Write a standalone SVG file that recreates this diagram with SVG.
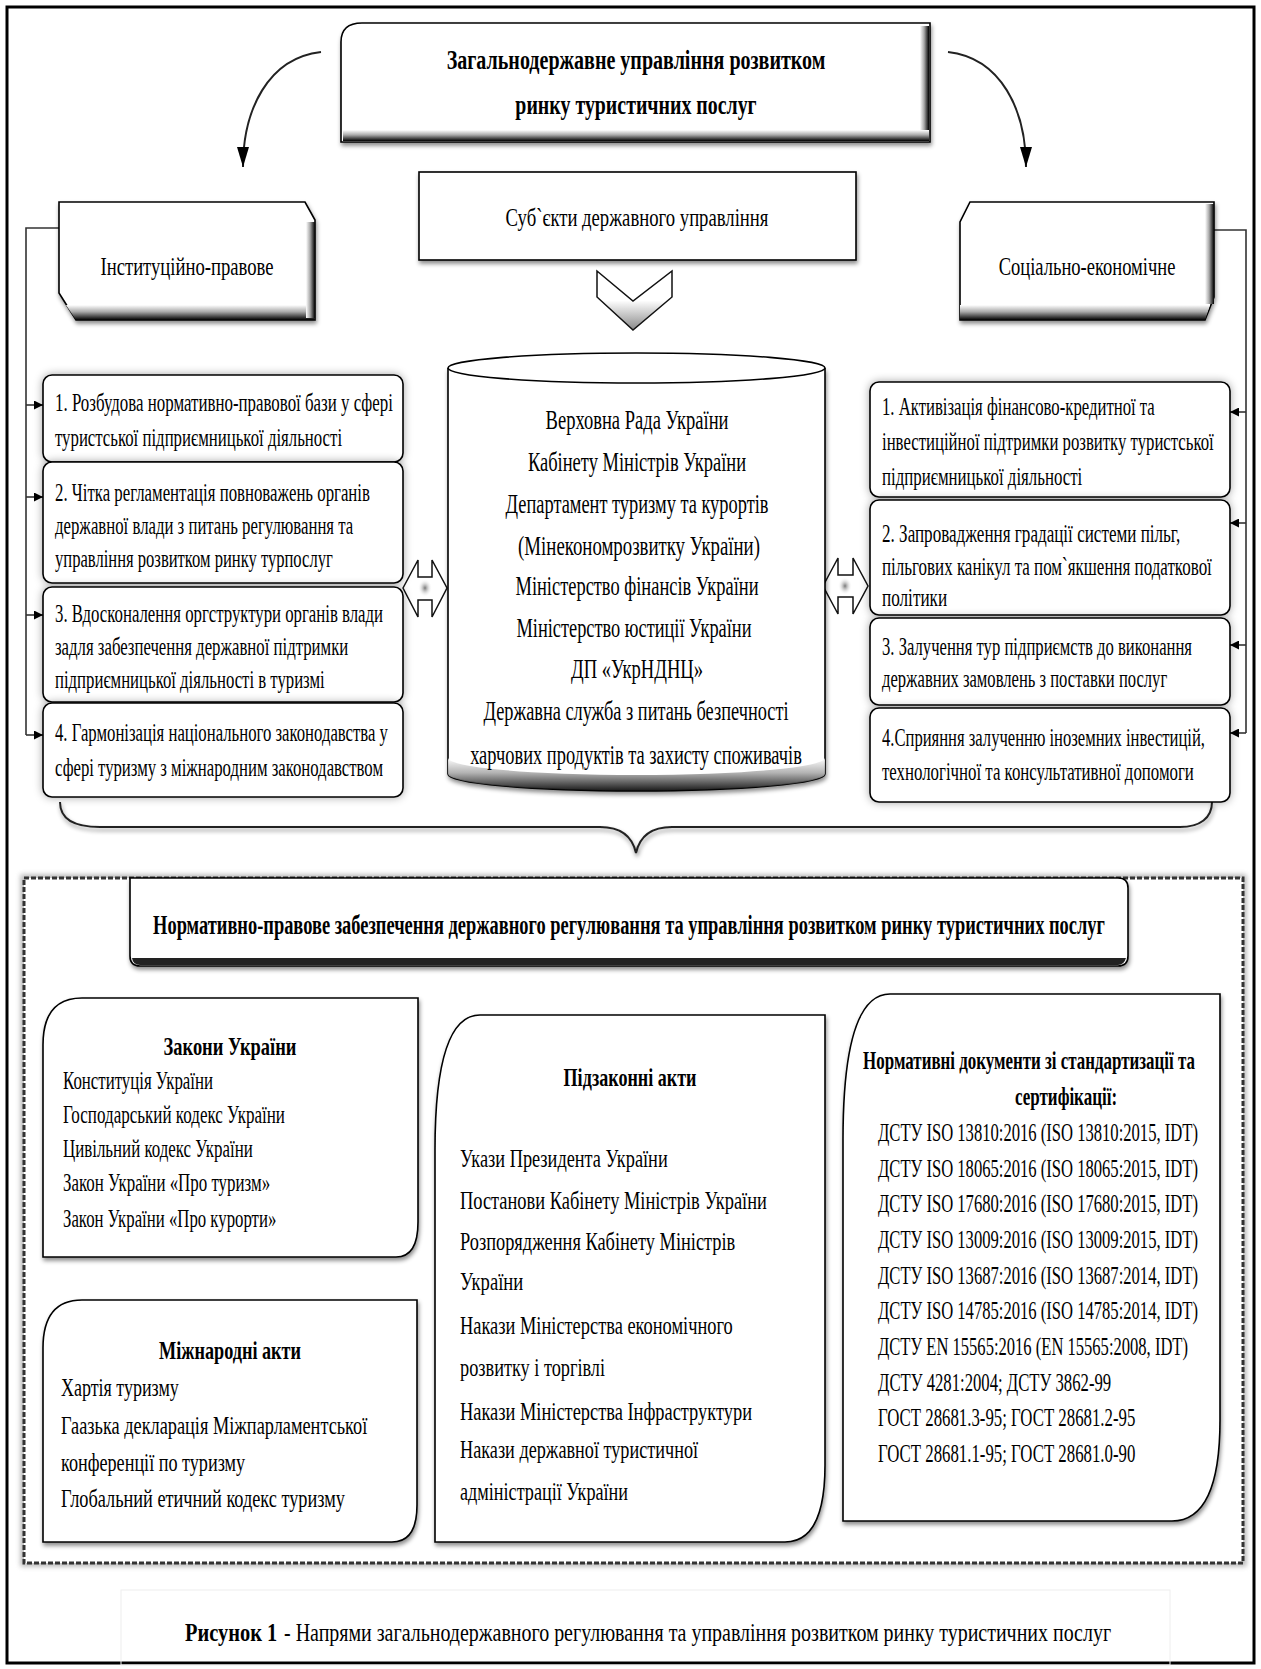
<svg xmlns="http://www.w3.org/2000/svg" width="1261" height="1669" viewBox="0 0 1261 1669">
<style>
.t{font-family:"Liberation Serif","Times New Roman",serif;font-size:26px;fill:#000}
.b{font-weight:bold}
.c{text-anchor:middle}
.cy{font-size:28px}
.h{font-size:28px}
.box{fill:#fff;stroke:#000;stroke-width:1.6}
.con{fill:none;stroke:#333;stroke-width:1.6}
</style>
<defs>
<linearGradient id="gB" x1="0" y1="0" x2="0" y2="1"><stop offset="0" stop-color="#fff"/><stop offset="0.45" stop-color="#aaa"/><stop offset="1" stop-color="#000"/></linearGradient>
<linearGradient id="gR" x1="0" y1="0" x2="1" y2="0"><stop offset="0" stop-color="#fff"/><stop offset="0.45" stop-color="#aaa"/><stop offset="1" stop-color="#000"/></linearGradient>
<linearGradient id="gChev" x1="0" y1="0" x2="0" y2="1"><stop offset="0" stop-color="#fff"/><stop offset="0.5" stop-color="#fff"/><stop offset="1" stop-color="#888"/></linearGradient>
<radialGradient id="blob"><stop offset="0" stop-color="#777"/><stop offset="1" stop-color="#fff" stop-opacity="0"/></radialGradient>
<filter id="sh" x="-5%" y="-10%" width="112%" height="130%"><feDropShadow dx="1" dy="3" stdDeviation="2" flood-color="#000" flood-opacity="0.45"/></filter>
<filter id="glow" x="-10%" y="-20%" width="120%" height="140%"><feDropShadow dx="0" dy="0" stdDeviation="4" flood-color="#000" flood-opacity="0.35"/></filter>
<filter id="blur"><feGaussianBlur stdDeviation="2.5"/></filter>
<marker id="big" viewBox="0 0 12 20" refX="6" refY="20" markerWidth="12" markerHeight="20" markerUnits="userSpaceOnUse" orient="0"><path d="M0,0 L12,0 L6,20 Z" fill="#000"/></marker>
<marker id="sm" viewBox="0 0 10 10" refX="10" refY="5" markerWidth="10" markerHeight="9" markerUnits="userSpaceOnUse" orient="auto"><path d="M0,0 L10,5 L0,10 Z" fill="#000"/></marker>
</defs>
<rect x="0" y="0" width="1261" height="1669" fill="#fff"/>
<rect x="7" y="7" width="1247" height="1656" fill="none" stroke="#000" stroke-width="3"/>

<g id="connectors">
<path d="M321,52 C268,58 243,110 243,167" fill="none" stroke="#222" stroke-width="2" marker-end="url(#big)"/>
<path d="M948,52 C1001,58 1026,110 1026,167" fill="none" stroke="#222" stroke-width="2" marker-end="url(#big)"/>
<path class="con" d="M59,228 H26 V735"/>
<line class="con" x1="26" y1="405" x2="43" y2="405" marker-end="url(#sm)"/>
<line class="con" x1="26" y1="497" x2="43" y2="497" marker-end="url(#sm)"/>
<line class="con" x1="26" y1="615" x2="43" y2="615" marker-end="url(#sm)"/>
<line class="con" x1="26" y1="735" x2="43" y2="735" marker-end="url(#sm)"/>
<path class="con" d="M1214,230 H1246 V733"/>
<line class="con" x1="1246" y1="412" x2="1230" y2="412" marker-end="url(#sm)"/>
<line class="con" x1="1246" y1="523" x2="1230" y2="523" marker-end="url(#sm)"/>
<line class="con" x1="1246" y1="645" x2="1230" y2="645" marker-end="url(#sm)"/>
<line class="con" x1="1246" y1="733" x2="1230" y2="733" marker-end="url(#sm)"/>
<path d="M60,802 C60,820 75,827 100,827 H600 C620,827 632,835 636,853 C640,835 652,827 672,827 H1180 C1200,827 1212,818 1212,802" fill="none" stroke="#222" stroke-width="2" filter="url(#sh)"/>
<g id="chevron"><polygon points="597,271 633,301 672,271 672,297 633,330 597,297" fill="url(#gChev)" stroke="#111" stroke-width="1.5"/></g>
<g id="dblL"><polygon points="403,588 418,560 418,577 432,577 432,560 447,588 432,617 432,600 418,600 418,617" fill="#fff" stroke="#111" stroke-width="1.5"/><ellipse cx="425" cy="588" rx="7" ry="9" fill="url(#blob)"/></g>
<g id="dblR"><polygon points="823,586 838,558 838,575 853,575 853,558 868,586 853,614 853,597 838,597 838,614" fill="#fff" stroke="#111" stroke-width="1.5"/><ellipse cx="845" cy="586" rx="7" ry="9" fill="url(#blob)"/></g>
</g>

<g id="title">
<path class="box" d="M341,142 V42 Q341,23 362,23 H930 V142 Z" filter="url(#sh)"/>
<rect x="920" y="26" width="9" height="115" fill="url(#gR)"/>
<path d="M343,130 H929 V141 H343 Z" fill="url(#gB)"/>
<text class="t b c h" transform="translate(636,69) scale(0.58,1)" textLength="653" lengthAdjust="spacingAndGlyphs">Загальнодержавне управління розвитком</text>
<text class="t b c h" transform="translate(636,114) scale(0.58,1)" textLength="416" lengthAdjust="spacingAndGlyphs">ринку туристичних послуг</text>
</g>

<g id="subjects">
<rect class="box" x="419" y="172" width="437" height="88" filter="url(#sh)"/>
<text class="t c" transform="translate(637,226) scale(0.62,1)" textLength="424" lengthAdjust="spacingAndGlyphs">Суб`єкти державного управління</text>
</g>

<g id="inst">
<path class="box" d="M59,202 H305 L315,220 V320 H76 L59,293 Z" filter="url(#sh)"/>
<path d="M66,305 H315 V320 H76 Z" fill="url(#gB)"/>
<rect x="306" y="222" width="9" height="96" fill="url(#gR)"/>
<text class="t c" transform="translate(187,275) scale(0.62,1)" textLength="279" lengthAdjust="spacingAndGlyphs">Інституційно-правове</text>
</g>

<g id="soc">
<path class="box" d="M970,202 H1214 V297 L1205,320 H960 V222 Z" filter="url(#sh)"/>
<path d="M960,305 H1210 L1205,320 H960 Z" fill="url(#gB)"/>
<rect x="1205" y="204" width="9" height="100" fill="url(#gR)"/>
<text class="t c" transform="translate(1087,275) scale(0.62,1)" textLength="285" lengthAdjust="spacingAndGlyphs">Соціально-економічне</text>
</g>

<g id="left1">
<rect class="box" x="43" y="375" width="360" height="87" rx="9" filter="url(#glow)"/>
<text class="t" transform="translate(55,411) scale(0.62,1)" textLength="545" lengthAdjust="spacingAndGlyphs">1. Розбудова нормативно-правової бази у сфері</text>
<text class="t" transform="translate(55,446) scale(0.62,1)" textLength="463" lengthAdjust="spacingAndGlyphs">туристської підприємницької діяльності</text>
</g>
<g id="left2">
<rect class="box" x="43" y="462" width="360" height="121" rx="9" filter="url(#glow)"/>
<text class="t" transform="translate(55,501) scale(0.62,1)" textLength="508" lengthAdjust="spacingAndGlyphs">2. Чітка регламентація повноважень органів</text>
<text class="t" transform="translate(55,534) scale(0.62,1)" textLength="481" lengthAdjust="spacingAndGlyphs">державної влади з питань регулювання та</text>
<text class="t" transform="translate(55,567) scale(0.62,1)" textLength="448" lengthAdjust="spacingAndGlyphs">управління розвитком ринку турпослуг</text>
</g>
<g id="left3">
<rect class="box" x="43" y="587" width="360" height="115" rx="9" filter="url(#glow)"/>
<text class="t" transform="translate(55,622) scale(0.62,1)" textLength="529" lengthAdjust="spacingAndGlyphs">3. Вдосконалення оргструктури органів влади</text>
<text class="t" transform="translate(55,655) scale(0.62,1)" textLength="473" lengthAdjust="spacingAndGlyphs">задля забезпечення державної підтримки</text>
<text class="t" transform="translate(55,688) scale(0.62,1)" textLength="435" lengthAdjust="spacingAndGlyphs">підприємницької діяльності в туризмі</text>
</g>
<g id="left4">
<rect class="box" x="43" y="703" width="360" height="94" rx="9" filter="url(#glow)"/>
<text class="t" transform="translate(55,741) scale(0.62,1)" textLength="537" lengthAdjust="spacingAndGlyphs">4. Гармонізація національного законодавства у</text>
<text class="t" transform="translate(55,776) scale(0.62,1)" textLength="529" lengthAdjust="spacingAndGlyphs">сфері туризму з міжнародним законодавством</text>
</g>

<g id="cylinder">
<path class="box" d="M448,368 V774 A188.5,17 0 0 0 825,774 V368" filter="url(#sh)"/>
<path d="M448,758 A188.5,17 0 0 0 825,758 V774 A188.5,17 0 0 1 448,774 Z" fill="url(#gB)" opacity="0.9"/>
<ellipse cx="636.5" cy="368" rx="188.5" ry="15" fill="#fff" stroke="#000" stroke-width="1.6"/>
<text class="t cy c" transform="translate(637,429) scale(0.62,1)" textLength="295" lengthAdjust="spacingAndGlyphs">Верховна Рада України</text>
<text class="t cy c" transform="translate(637,471) scale(0.62,1)" textLength="352" lengthAdjust="spacingAndGlyphs">Кабінету Міністрів України</text>
<text class="t cy c" transform="translate(637,513) scale(0.62,1)" textLength="424" lengthAdjust="spacingAndGlyphs">Департамент туризму та курортів</text>
<text class="t cy c" transform="translate(639,555) scale(0.62,1)" textLength="390" lengthAdjust="spacingAndGlyphs">(Мінекономрозвитку України)</text>
<text class="t cy c" transform="translate(637,595) scale(0.62,1)" textLength="392" lengthAdjust="spacingAndGlyphs">Міністерство фінансів України</text>
<text class="t cy c" transform="translate(634,637) scale(0.62,1)" textLength="379" lengthAdjust="spacingAndGlyphs">Міністерство юстиції України</text>
<text class="t cy c" transform="translate(637,678) scale(0.62,1)" textLength="213" lengthAdjust="spacingAndGlyphs">ДП «УкрНДНЦ»</text>
<text class="t cy c" transform="translate(636,720) scale(0.62,1)" textLength="492" lengthAdjust="spacingAndGlyphs">Державна служба з питань безпечності</text>
<text class="t cy c" transform="translate(636,764) scale(0.62,1)" textLength="535" lengthAdjust="spacingAndGlyphs">харчових продуктів та захисту споживачів</text>
</g>

<g id="right1">
<rect class="box" x="870" y="382" width="360" height="115" rx="9" filter="url(#glow)"/>
<text class="t" transform="translate(882,415) scale(0.62,1)" textLength="440" lengthAdjust="spacingAndGlyphs">1. Активізація фінансово-кредитної та</text>
<text class="t" transform="translate(882,450) scale(0.62,1)" textLength="535" lengthAdjust="spacingAndGlyphs">інвестиційної підтримки розвитку туристської</text>
<text class="t" transform="translate(882,485) scale(0.62,1)" textLength="323" lengthAdjust="spacingAndGlyphs">підприємницької діяльності</text>
</g>
<g id="right2">
<rect class="box" x="870" y="500" width="360" height="115" rx="9" filter="url(#glow)"/>
<text class="t" transform="translate(882,542) scale(0.62,1)" textLength="481" lengthAdjust="spacingAndGlyphs">2. Запровадження градації системи пільг,</text>
<text class="t" transform="translate(882,575) scale(0.62,1)" textLength="532" lengthAdjust="spacingAndGlyphs">пільгових канікул та пом`якшення податкової</text>
<text class="t" transform="translate(882,606) scale(0.62,1)" textLength="105" lengthAdjust="spacingAndGlyphs">політики</text>
</g>
<g id="right3">
<rect class="box" x="870" y="618" width="360" height="87" rx="9" filter="url(#glow)"/>
<text class="t" transform="translate(882,655) scale(0.62,1)" textLength="500" lengthAdjust="spacingAndGlyphs">3. Залучення  тур підприємств до виконання</text>
<text class="t" transform="translate(882,687) scale(0.62,1)" textLength="460" lengthAdjust="spacingAndGlyphs">державних замовлень з поставки послуг</text>
</g>
<g id="right4">
<rect class="box" x="870" y="708" width="360" height="94" rx="9" filter="url(#glow)"/>
<text class="t" transform="translate(882,746) scale(0.62,1)" textLength="521" lengthAdjust="spacingAndGlyphs">4.Сприяння залученню іноземних інвестицій,</text>
<text class="t" transform="translate(882,780) scale(0.62,1)" textLength="503" lengthAdjust="spacingAndGlyphs">технологічної та консультативної допомоги</text>
</g>

<g id="container">
<rect x="24" y="878" width="1219" height="685" fill="none" stroke="#888" stroke-width="7" filter="url(#blur)" opacity="0.6"/>
<rect x="24" y="878" width="1219" height="685" fill="#fff" stroke="#333" stroke-width="3" stroke-dasharray="5 2"/>
</g>

<g id="header">
<path class="box" d="M130,878 H1118 Q1128,878 1128,888 V956 Q1128,966 1118,966 H140 Q130,966 130,956 Z" stroke-width="2" filter="url(#sh)"/>
<path d="M132,958 H1126 Q1124,965 1118,965 H140 Q133,965 132,958 Z" fill="#222"/>
<text class="t b c h" transform="translate(629,934) scale(0.58,1)" textLength="1641" lengthAdjust="spacingAndGlyphs">Нормативно-правове забезпечення державного регулювання та управління розвитком ринку туристичних послуг</text>
</g>

<g id="laws">
<path class="box" d="M43,1257 V1045 Q43,998 82,998 H418 V1222 Q418,1257 396,1257 Z" filter="url(#sh)"/>
<text class="t b c" transform="translate(230,1055) scale(0.58,1)" textLength="229" lengthAdjust="spacingAndGlyphs">Закони України</text>
<text class="t" transform="translate(63,1089) scale(0.62,1)" textLength="242" lengthAdjust="spacingAndGlyphs">Конституція України</text>
<text class="t" transform="translate(63,1123) scale(0.62,1)" textLength="358" lengthAdjust="spacingAndGlyphs">Господарський кодекс України</text>
<text class="t" transform="translate(63,1157) scale(0.62,1)" textLength="306" lengthAdjust="spacingAndGlyphs">Цивільний кодекс України</text>
<text class="t" transform="translate(63,1191) scale(0.62,1)" textLength="334" lengthAdjust="spacingAndGlyphs">Закон України «Про туризм»</text>
<text class="t" transform="translate(63,1227) scale(0.62,1)" textLength="344" lengthAdjust="spacingAndGlyphs">Закон України «Про курорти»</text>
</g>

<g id="intl">
<path class="box" d="M43,1542 V1348 Q43,1300 82,1300 H417 V1505 Q417,1542 392,1542 Z" filter="url(#sh)"/>
<text class="t b c" transform="translate(230,1359) scale(0.58,1)" textLength="245" lengthAdjust="spacingAndGlyphs">Міжнародні акти</text>
<text class="t" transform="translate(61,1396) scale(0.62,1)" textLength="190" lengthAdjust="spacingAndGlyphs">Хартія туризму</text>
<text class="t" transform="translate(61,1434) scale(0.62,1)" textLength="494" lengthAdjust="spacingAndGlyphs">Гаазька декларація Міжпарламентської</text>
<text class="t" transform="translate(61,1471) scale(0.62,1)" textLength="297" lengthAdjust="spacingAndGlyphs">конференції по туризму</text>
<text class="t" transform="translate(61,1507) scale(0.62,1)" textLength="458" lengthAdjust="spacingAndGlyphs">Глобальний етичний кодекс туризму</text>
</g>

<g id="bylaws">
<path class="box" d="M435,1542 V1150 Q435,1015 480,1015 H825 V1465 Q825,1542 785,1542 Z" filter="url(#sh)"/>
<text class="t b c" transform="translate(630,1086) scale(0.58,1)" textLength="229" lengthAdjust="spacingAndGlyphs">Підзаконні акти</text>
<text class="t" transform="translate(460,1167) scale(0.62,1)" textLength="335" lengthAdjust="spacingAndGlyphs">Укази Президента України</text>
<text class="t" transform="translate(460,1209) scale(0.62,1)" textLength="495" lengthAdjust="spacingAndGlyphs">Постанови Кабінету Міністрів України</text>
<text class="t" transform="translate(460,1250) scale(0.62,1)" textLength="444" lengthAdjust="spacingAndGlyphs">Розпорядження Кабінету Міністрів</text>
<text class="t" transform="translate(460,1290) scale(0.62,1)" textLength="102" lengthAdjust="spacingAndGlyphs">України</text>
<text class="t" transform="translate(460,1334) scale(0.62,1)" textLength="440" lengthAdjust="spacingAndGlyphs">Накази Міністерства економічного</text>
<text class="t" transform="translate(460,1376) scale(0.62,1)" textLength="234" lengthAdjust="spacingAndGlyphs">розвитку і торгівлі</text>
<text class="t" transform="translate(460,1420) scale(0.62,1)" textLength="471" lengthAdjust="spacingAndGlyphs">Накази Міністерства Інфраструктури</text>
<text class="t" transform="translate(460,1458) scale(0.62,1)" textLength="384" lengthAdjust="spacingAndGlyphs">Накази державної туристичної</text>
<text class="t" transform="translate(460,1500) scale(0.62,1)" textLength="271" lengthAdjust="spacingAndGlyphs">адміністрації України</text>
</g>

<g id="standards">
<path class="box" d="M843,1521 V1140 Q843,994 890,994 H1220 V1420 Q1220,1521 1172,1521 Z" filter="url(#sh)"/>
<text class="t b c" transform="translate(1029,1069) scale(0.58,1)" textLength="572" lengthAdjust="spacingAndGlyphs">Нормативні документи зі стандартизації та</text>
<text class="t b c" transform="translate(1066,1105) scale(0.58,1)" textLength="176" lengthAdjust="spacingAndGlyphs">сертифікації:</text>
<text class="t" transform="translate(878,1141) scale(0.62,1)" textLength="516" lengthAdjust="spacingAndGlyphs">ДСТУ ISO 13810:2016 (ISO 13810:2015, IDT)</text>
<text class="t" transform="translate(878,1177) scale(0.62,1)" textLength="516" lengthAdjust="spacingAndGlyphs">ДСТУ ISO 18065:2016 (ISO 18065:2015, IDT)</text>
<text class="t" transform="translate(878,1212) scale(0.62,1)" textLength="516" lengthAdjust="spacingAndGlyphs">ДСТУ ISO 17680:2016 (ISO 17680:2015, IDT)</text>
<text class="t" transform="translate(878,1248) scale(0.62,1)" textLength="516" lengthAdjust="spacingAndGlyphs">ДСТУ ISO 13009:2016 (ISO 13009:2015, IDT)</text>
<text class="t" transform="translate(878,1284) scale(0.62,1)" textLength="516" lengthAdjust="spacingAndGlyphs">ДСТУ ISO 13687:2016 (ISO 13687:2014, IDT)</text>
<text class="t" transform="translate(878,1319) scale(0.62,1)" textLength="516" lengthAdjust="spacingAndGlyphs">ДСТУ ISO 14785:2016 (ISO 14785:2014, IDT)</text>
<text class="t" transform="translate(878,1355) scale(0.62,1)" textLength="500" lengthAdjust="spacingAndGlyphs">ДСТУ EN 15565:2016 (EN 15565:2008, IDT)</text>
<text class="t" transform="translate(878,1391) scale(0.62,1)" textLength="376" lengthAdjust="spacingAndGlyphs">ДСТУ 4281:2004; ДСТУ 3862-99</text>
<text class="t" transform="translate(878,1426) scale(0.62,1)" textLength="415" lengthAdjust="spacingAndGlyphs">ГОСТ 28681.3-95; ГОСТ 28681.2-95</text>
<text class="t" transform="translate(878,1462) scale(0.62,1)" textLength="415" lengthAdjust="spacingAndGlyphs">ГОСТ 28681.1-95; ГОСТ 28681.0-90</text>
</g>

<g id="caption">
<rect x="121" y="1590" width="1049" height="75" fill="none" stroke="#eee" stroke-width="1"/>
<text class="t b" transform="translate(185,1641) scale(0.58,1)" textLength="159" lengthAdjust="spacingAndGlyphs">Рисунок 1</text>
<text class="t" transform="translate(284,1641) scale(0.62,1)" textLength="1334" lengthAdjust="spacingAndGlyphs">- Напрями  загальнодержавного регулювання та управління розвитком ринку туристичних послуг</text>
</g>
</svg>
